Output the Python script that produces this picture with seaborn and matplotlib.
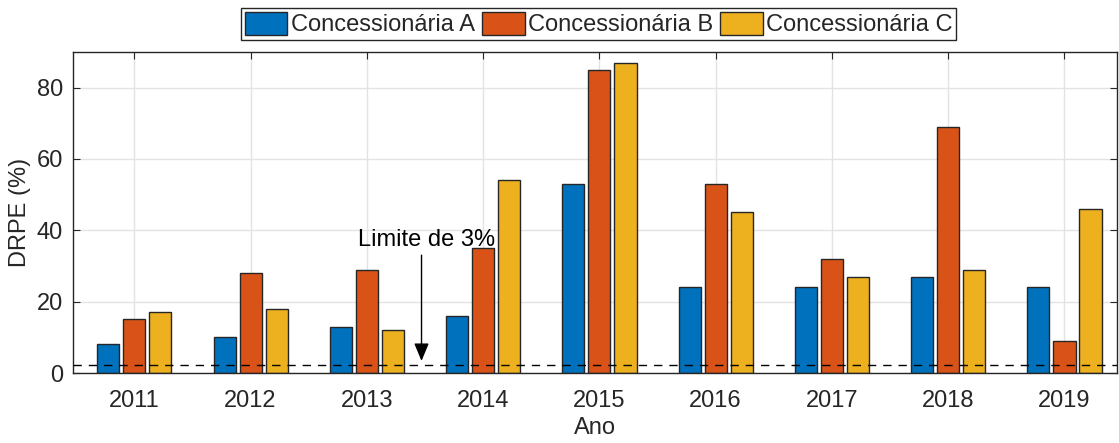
import pandas as pd
import seaborn as sns
from matplotlib import pyplot as plt

anos = ['2011', '2012', '2013', '2014', '2015', '2016', '2017', '2018', '2019']
conc_a = [8, 10, 13, 16, 53, 24, 24, 27, 24]
conc_b = [15, 28, 29, 35, 85, 53, 32, 69, 9]
conc_c = [17, 18, 12, 54, 87, 45, 27, 29, 46]
series_names = ['Concessionária A', 'Concessionária B', 'Concessionária C']
limite = 2.3

plot_data = pd.DataFrame({
    'ano': anos * 3,
    'valor': conc_a + conc_b + conc_c,
    'serie': [s for s in series_names for _ in anos],
})

sns.set_style('white')
plt.rcParams['font.family'] = ['Liberation Sans', 'DejaVu Sans']
plt.rcParams['font.size'] = 17

fig = plt.figure(figsize=(11.19, 4.43), dpi=100)
ax = fig.add_axes([0.065, 0.158, 0.933, 0.725])

ax = sns.barplot(data=plot_data, x='ano', y='valor', hue='serie',
                 palette=['#0072BD', '#D95319', '#EDB120'],
                 width=0.672, gap=0.15, edgecolor='#262626', linewidth=1,
                 saturation=1, ax=ax)

ax.axhline(limite, color='black', linestyle=(0, (6, 5)), linewidth=1, zorder=3)
ax.annotate('', xy=(2.47, limite + 0.3), xytext=(2.47, 33.8),
            arrowprops=dict(arrowstyle='-|>,head_length=0.6,head_width=0.25',
                            color='black', lw=1, mutation_scale=18))
ax.text(2.51, 37.2, 'Limite de 3%', ha='center', va='center', fontsize=17, color='black')

ax.set_xlim(-0.53, 8.45)
ax.set_ylim(0, 90)
ax.set_yticks([0, 20, 40, 60, 80])
ax.grid(True, color='#e3e3e3', linewidth=1)
ax.set_axisbelow(True)
for spine in ax.spines.values():
    spine.set_visible(True)
    spine.set_color('#262626')
    spine.set_linewidth(1)
ax.tick_params(direction='in', length=5, color='#262626', labelcolor='#262626',
               labelsize=17, left=True, bottom=True, top=True, right=True)
ax.tick_params(axis='x', pad=12)
ax.tick_params(axis='y', pad=7)

ax.set_xlabel('Ano', fontsize=17, color='#262626', labelpad=4)
ax.set_ylabel('DRPE (%)', fontsize=17, color='#262626', labelpad=4)

handles, labels = ax.get_legend_handles_labels()
ax.legend(handles, labels, loc='lower center', bbox_to_anchor=(0.504, 1.037), ncol=3,
          frameon=True, fancybox=False, edgecolor='#262626', framealpha=1,
          fontsize=17, handlelength=1.8, handleheight=1.15, handletextpad=0.15,
          columnspacing=0.3, borderpad=0.15, borderaxespad=0)

fig.savefig('out.png', dpi=100)
